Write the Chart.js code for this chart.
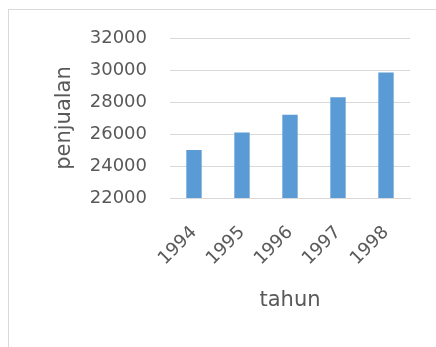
<!DOCTYPE html>
<html>
<head>
<meta charset="utf-8">
<script src="https://cdn.jsdelivr.net/npm/chart.js@4"></script>
<style>
  html, body { margin: 0; padding: 0; background: #fff; }
  #wrap { position: relative; width: 436px; height: 347px; overflow: hidden; }
  #frame { position: absolute; left: 8px; top: 9px; width: 440px; height: 350px; border: 1px solid #d9d9d9; }
  canvas { position: absolute; left: 0; top: 0; }
</style>
</head>
<body>
<div id="wrap">
  <div id="frame"></div>
  <canvas id="chart" width="436" height="347"></canvas>
</div>
<script>
// data
const years = ['1994', '1995', '1996', '1997', '1998'];
const sales = [25000, 26100, 27200, 28300, 29850];
const yMin = 22000, yMax = 32000, yStep = 2000;

const grey = '#595959';
const tickFont = { family: 'DejaVu Sans', size: 18 };
const xTickFont = { family: 'DejaVu Sans', size: 18 };
const titleFont = { family: 'DejaVu Sans', size: 21 };

new Chart(document.getElementById('chart'), {
  type: 'bar',
  data: {
    labels: years,
    datasets: [{
      data: sales,
      backgroundColor: '#5b9bd5',
      categoryPercentage: 1,
      barPercentage: 0.32
    }]
  },
  options: {
    responsive: false,
    animation: false,
    layout: { padding: { left: 0, right: 26, top: 38, bottom: 0 } },
    plugins: { legend: { display: false }, tooltip: { enabled: false } },
    scales: {
      x: {
        grid: { display: false },
        border: { color: '#d9d9d9' },
        ticks: { color: grey, font: xTickFont, minRotation: 45, maxRotation: 45, padding: 16 },
        title: { display: true, text: 'tahun', color: grey, font: titleFont, padding: { top: 0, bottom: 34 } },
        afterFit: s => { s.height = 149; }
      },
      y: {
        min: yMin,
        max: yMax,
        border: { display: false },
        grid: { color: '#d9d9d9', drawTicks: false },
        ticks: { stepSize: yStep, color: grey, font: tickFont, padding: 23, callback: v => String(v) },
        title: { display: true, text: 'penjualan', color: grey, font: titleFont, padding: { top: 52, bottom: 0 } },
        afterFit: s => { s.width = 170; }
      }
    }
  }
});
</script>
</body>
</html>
